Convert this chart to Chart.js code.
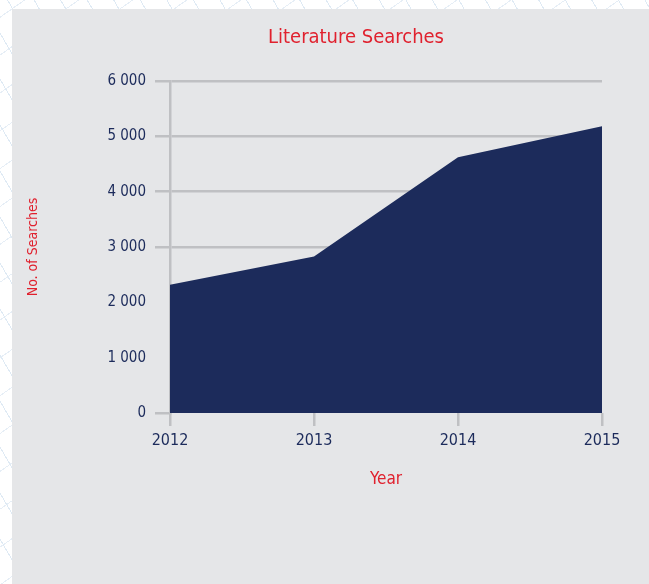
<!DOCTYPE html>
<html>
<head>
<meta charset="utf-8">
<script src="https://cdn.jsdelivr.net/npm/chart.js@4.4.1/dist/chart.umd.min.js"></script>
<style>
    html, body { margin: 0; padding: 0; width: 649px; height: 584px; overflow: hidden; }
    body {
        background-color: #ffffff;
        background-image:
            repeating-linear-gradient(60deg, transparent 0 22px, #dfeaf4 22px 23px),
            repeating-linear-gradient(-35deg, transparent 0 30px, #e6eef6 30px 31px);
    }
    #panel { position: absolute; left: 12px; top: 9px; right: 0; bottom: 0; background: #e5e6e8; }
    #wrap { position: absolute; left: 0; top: 0; width: 712px; height: 584px; }
</style>
</head>
<body>
<div id="panel"></div>
<div id="wrap"><canvas id="searchChart" width="712" height="584"></canvas></div>
<script>
// chart data
const years = ['2012', '2013', '2014', '2015'];
const searches = [2320, 2830, 4620, 5180];
const yTickValues = [0, 1000, 2000, 3000, 4000, 5000, 6000];
const yTickLabels = ['0', '1 000', '2 000', '3 000', '4 000', '5 000', '6 000'];

const navy = '#1c2b5b';
const red = '#e0212e';
const grey = '#bfc0c3';
const fontFamily = "'DejaVu Sans Condensed', 'Liberation Sans Narrow', sans-serif";

const ctx = document.getElementById('searchChart').getContext('2d');
new Chart(ctx, {
    type: 'line',
    data: {
        labels: years,
        datasets: [{
            label: 'Literature Searches',
            data: searches,
            backgroundColor: navy,
            borderWidth: 0,
            pointRadius: 0,
            fill: 'origin',
            tension: 0
        }]
    },
    options: {
        responsive: false,
        animation: false,
        layout: { padding: 0 },
        plugins: {
            legend: { display: false },
            tooltip: { enabled: false },
            title: {
                display: true,
                text: 'Literature Searches',
                color: red,
                font: { family: fontFamily, size: 20, weight: 'normal' },
                padding: { top: 26, bottom: 31 }
            }
        },
        scales: {
            x: {
                type: 'category',
                offset: false,
                afterFit: (scale) => { scale.height = 171; },
                grid: {
                    drawOnChartArea: false,
                    color: grey,
                    lineWidth: 2.5,
                    tickLength: 13
                },
                border: { display: false },
                ticks: {
                    color: navy,
                    padding: 5,
                    maxRotation: 0,
                    font: { family: fontFamily, size: 16 }
                },
                title: {
                    display: true,
                    text: 'Year',
                    color: red,
                    font: { family: fontFamily, size: 17 },
                    padding: { top: 0, bottom: 94 }
                }
            },
            y: {
                min: 0,
                max: 6000,
                afterFit: (scale) => { scale.width = 170; },
                afterBuildTicks: (scale) => {
                    scale.ticks = yTickValues.map(v => ({ value: v }));
                },
                grid: {
                    color: (c) => (c.tick && c.tick.value >= 3000 ? grey : 'rgba(0,0,0,0)'),
                    tickColor: (c) => (c.tick && (c.tick.value === 1000 || c.tick.value === 2000) ? 'rgba(0,0,0,0)' : grey),
                    lineWidth: 2.5,
                    tickLength: 15
                },
                border: { display: true, color: grey, width: 2.5 },
                ticks: {
                    color: navy,
                    padding: 9,
                    font: { family: fontFamily, size: 15 },
                    callback: (value) => yTickLabels[yTickValues.indexOf(value)]
                },
                title: {
                    display: true,
                    text: 'No. of Searches',
                    color: red,
                    font: { family: fontFamily, size: 14 },
                    padding: { top: 25, bottom: 0 }
                }
            },
            yRight: {
                position: 'right',
                display: true,
                afterFit: (scale) => { scale.width = 110; },
                grid: { display: false },
                border: { display: false },
                ticks: { display: false }
            }
        }
    }
});
</script>
</body>
</html>
